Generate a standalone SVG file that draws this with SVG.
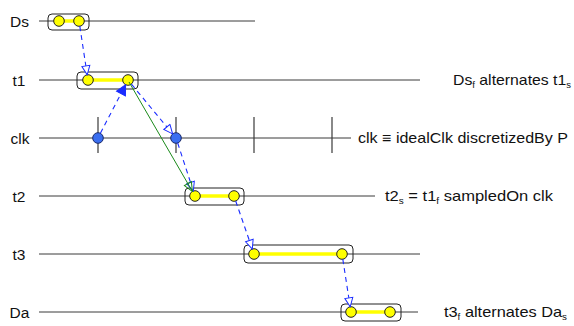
<svg xmlns="http://www.w3.org/2000/svg" width="574" height="326" viewBox="0 0 574 326">
<style>
.bg{fill:#ffffff}
.tl{stroke:#3a3a3a;stroke-width:1;fill:none}
.tick{stroke:#3a3a3a;stroke-width:1.2}
.box{fill:none;stroke:#222;stroke-width:1}
.bar{stroke:#ffff00;stroke-width:3.5}
.yd{fill:#ffff00;stroke:#222;stroke-width:1}
.bd{fill:#3a6ef0;stroke:#1a2a6a;stroke-width:1}
.lbl{font-family:"Liberation Sans",Arial,sans-serif;font-size:15.5px;fill:#111}
.rl{font-family:"Liberation Sans",Arial,sans-serif;font-size:15px;fill:#111}
.sub{font-size:9px}
.dash{stroke:#1a2cff;stroke-width:1.1;stroke-dasharray:5,4;fill:none}
.grn{stroke:#1a8a1a;stroke-width:1;fill:none}
</style>
<defs>
<marker id="oa" viewBox="-1 -5 11 10" refX="9" refY="0" markerWidth="11" markerHeight="10" markerUnits="userSpaceOnUse" orient="auto">
<path d="M0,-4 L9,0 L0,4 Z" fill="#ffffff" stroke="#1a2cff" stroke-width="1"/>
</marker>
<marker id="fa" viewBox="-1 -6 12 12" refX="10" refY="0" markerWidth="12" markerHeight="12" markerUnits="userSpaceOnUse" orient="auto">
<path d="M0,-5 L10,0 L0,5 Z" fill="#1a2cff" stroke="#1a2cff" stroke-width="1"/>
</marker>
<marker id="ga" viewBox="-1 -5 11 10" refX="9" refY="0" markerWidth="11" markerHeight="10" markerUnits="userSpaceOnUse" orient="auto">
<path d="M0,-4 L9,0 L0,4 Z" fill="none" stroke="#1a8a1a" stroke-width="1"/>
</marker>
</defs>
<rect class="bg" x="0" y="0" width="574" height="326"/>

<g id="timelines">
<line class="tl" x1="39" y1="21" x2="255" y2="21"/>
<line class="tl" x1="39" y1="80" x2="420" y2="80"/>
<line class="tl" x1="39" y1="138" x2="351" y2="138"/>
<line class="tl" x1="39" y1="196" x2="375" y2="196"/>
<line class="tl" x1="39" y1="254" x2="420" y2="254"/>
<line class="tl" x1="39" y1="312" x2="418" y2="312"/>
<line class="tick" x1="98" y1="117" x2="98" y2="153"/>
<line class="tick" x1="176" y1="117" x2="176" y2="153"/>
<line class="tick" x1="254" y1="117" x2="254" y2="153"/>
<line class="tick" x1="332" y1="117" x2="332" y2="153"/>
</g>

<g id="labels">
<text class="lbl" x="19.5" y="26.5" text-anchor="middle">Ds</text>
<text class="lbl" x="19" y="85.5" text-anchor="middle">t1</text>
<text class="lbl" x="20" y="143.5" text-anchor="middle">clk</text>
<text class="lbl" x="19" y="201.5" text-anchor="middle">t2</text>
<text class="lbl" x="19" y="259.5" text-anchor="middle">t3</text>
<text class="lbl" x="19.5" y="317.5" text-anchor="middle">Da</text>
<text class="rl" x="453" y="85" textLength="118" lengthAdjust="spacingAndGlyphs">Ds<tspan class="sub" dy="3">f</tspan><tspan dy="-3"> alternates t1</tspan><tspan class="sub" dy="3">s</tspan></text>
<text class="rl" x="358" y="143" textLength="210" lengthAdjust="spacingAndGlyphs">clk ≡ idealClk discretizedBy P</text>
<text class="rl" x="385" y="201" textLength="168" lengthAdjust="spacingAndGlyphs">t2<tspan class="sub" dy="3">s</tspan><tspan dy="-3"> = t1</tspan><tspan class="sub" dy="3">f</tspan><tspan dy="-3"> sampledOn clk</tspan></text>
<text class="rl" x="444" y="317" textLength="123" lengthAdjust="spacingAndGlyphs">t3<tspan class="sub" dy="3">f</tspan><tspan dy="-3"> alternates Da</tspan><tspan class="sub" dy="3">s</tspan></text>
</g>

<g id="node-Ds">
<rect class="box" x="48" y="14" width="41" height="16" rx="4"/>
<line class="bar" x1="59" y1="21" x2="79" y2="21"/>
<circle class="yd" cx="59" cy="21" r="5.3"/>
<circle class="yd" cx="79" cy="21" r="5.3"/>
</g>
<g id="node-t1">
<rect class="box" x="77" y="72" width="61" height="17" rx="4"/>
<line class="bar" x1="88" y1="80" x2="128" y2="80"/>
<circle class="yd" cx="88" cy="80" r="5.3"/>
<circle class="yd" cx="128" cy="80" r="5.3"/>
</g>
<g id="node-clk">
<circle class="bd" cx="98" cy="138" r="5.3"/>
<circle class="bd" cx="176" cy="138" r="5.3"/>
</g>
<g id="node-t2">
<rect class="box" x="185" y="188" width="59" height="17" rx="4"/>
<line class="bar" x1="195" y1="196" x2="234" y2="196"/>
<circle class="yd" cx="195" cy="196" r="5.3"/>
<circle class="yd" cx="234" cy="196" r="5.3"/>
</g>
<g id="node-t3">
<rect class="box" x="244" y="245" width="109" height="18" rx="4"/>
<line class="bar" x1="254" y1="254" x2="342" y2="254"/>
<circle class="yd" cx="254" cy="254" r="5.3"/>
<circle class="yd" cx="342" cy="254" r="5.3"/>
</g>
<g id="node-Da">
<rect class="box" x="341" y="304" width="60" height="17" rx="4"/>
<line class="bar" x1="351" y1="312" x2="390" y2="312"/>
<circle class="yd" cx="351" cy="312" r="5.3"/>
<circle class="yd" cx="390" cy="312" r="5.3"/>
</g>

<g id="connectors">
<line class="dash" x1="79.8" y1="26.2" x2="87.2" y2="74.8" marker-end="url(#oa)"/>
<line class="dash" x1="131.4" y1="84.1" x2="172.6" y2="133.9" marker-end="url(#oa)"/>
<line class="dash" x1="100.4" y1="133.3" x2="125.6" y2="84.7" marker-end="url(#fa)"/>
<line class="dash" x1="177.7" y1="143" x2="193.3" y2="191" marker-end="url(#oa)"/>
<line class="grn" x1="129" y1="82" x2="192.4" y2="191.4" marker-end="url(#ga)"/>
<line class="dash" x1="235.7" y1="201" x2="252.3" y2="249" marker-end="url(#oa)"/>
<line class="dash" x1="342.8" y1="259.2" x2="350.2" y2="306.8" marker-end="url(#oa)"/>
</g>
</svg>
